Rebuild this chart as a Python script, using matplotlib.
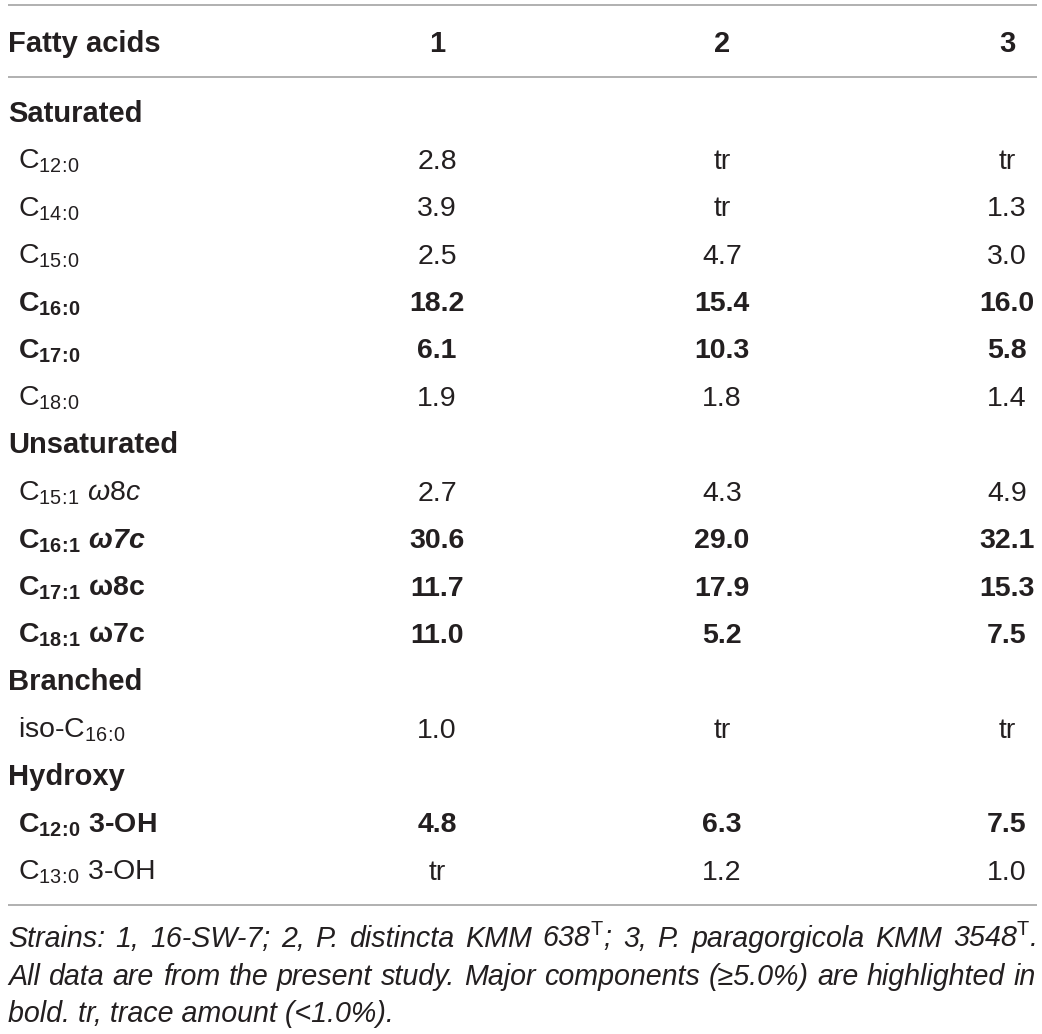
import matplotlib
matplotlib.use("Agg")
import matplotlib.pyplot as plt

plt.rcParams['font.family'] = ['Liberation Sans', 'DejaVu Sans']
plt.rcParams['mathtext.fontset'] = 'custom'
plt.rcParams['mathtext.rm'] = 'Liberation Sans'
plt.rcParams['mathtext.it'] = 'Liberation Sans:italic'
plt.rcParams['mathtext.bf'] = 'Liberation Sans:bold'
plt.rcParams['mathtext.bfit'] = 'Liberation Sans:bold:italic'
plt.rcParams['mathtext.sf'] = 'Liberation Sans'

# ---------------- data ----------------
header_labels = ["Fatty acids", "1", "2", "3"]

group_names = ["Saturated", "Unsaturated", "Branched", "Hydroxy"]

saturated_labels = [r"$\mathrm{C_{12\!:\!0}}$", r"$\mathrm{C_{14\!:\!0}}$", r"$\mathrm{C_{15\!:\!0}}$",
                    r"$\mathbf{C_{16\!:\!0}}$", r"$\mathbf{C_{17\!:\!0}}$", r"$\mathrm{C_{18\!:\!0}}$"]
unsaturated_labels = [r"$\mathrm{C_{15\!:\!1}}\ \mathit{ω8c}$",
                      r"$\mathbf{C_{16\!:\!1}}\ \mathbfit{ω7c}$",
                      r"$\mathbf{C_{17\!:\!1}}\ \mathbf{ω8c}$",
                      r"$\mathbf{C_{18\!:\!1}}\ \mathbf{ω7c}$"]
branched_labels = [r"iso-$\mathrm{C_{16\!:\!0}}$"]
hydroxy_labels = [r"$\mathbf{C_{12\!:\!0}}$ 3-OH",
                  r"$\mathrm{C_{13\!:\!0}}$ 3-OH"]

saturated_1 = ["2.8", "3.9", "2.5", "18.2", "6.1", "1.9"]
saturated_2 = ["tr", "tr", "4.7", "15.4", "10.3", "1.8"]
saturated_3 = ["tr", "1.3", "3.0", "16.0", "5.8", "1.4"]
saturated_major = [False, False, False, True, True, False]

unsaturated_1 = ["2.7", "30.6", "11.7", "11.0"]
unsaturated_2 = ["4.3", "29.0", "17.9", "5.2"]
unsaturated_3 = ["4.9", "32.1", "15.3", "7.5"]
unsaturated_major = [False, True, True, True]

branched_1 = ["1.0"]
branched_2 = ["tr"]
branched_3 = ["tr"]
branched_major = [False]

hydroxy_1 = ["4.8", "tr"]
hydroxy_2 = ["6.3", "1.2"]
hydroxy_3 = ["7.5", "1.0"]
hydroxy_major = [True, False]

caption_lines = [
    r"Strains: 1, 16-SW-7; 2, P. distincta KMM 638$^{\mathrm{T}}$; 3, P. paragorgicola KMM 3548$^{\mathrm{T}}$.",
    "All data are from the present study. Major components (≥5.0%) are highlighted in",
    "bold. tr, trace amount (<1.0%).",
]
caption_justify = [True, True, False]

groups = [
    (group_names[0], saturated_labels, saturated_1, saturated_2, saturated_3, saturated_major),
    (group_names[1], unsaturated_labels, unsaturated_1, unsaturated_2, unsaturated_3, unsaturated_major),
    (group_names[2], branched_labels, branched_1, branched_2, branched_3, branched_major),
    (group_names[3], hydroxy_labels, hydroxy_1, hydroxy_2, hydroxy_3, hydroxy_major),
]

# ---------------- layout ----------------
W, H = 1042, 1034
fig = plt.figure(figsize=(W / 100, H / 100), dpi=100)
ax = fig.add_axes([0, 0, 1, 1])
ax.set_xlim(0, W)
ax.set_ylim(H, 0)
ax.axis('off')

TXT = '#231f20'
LINE = '#a3a3a3'
FS = 20.5
FS_B = 21
FS_CAP = 20.6
x_group = 8
x_label = 18
x_right = 1036
col_x = [437, 722, 1007]
header_base = 52
first_base = 121.5
step = 47.4

ax.hlines([5, 77, 905], 8, 1037, color=LINE, lw=1.2)

ax.text(x_group, header_base, header_labels[0], fontsize=FS_B, fontweight='bold',
        color=TXT, ha='left', va='baseline')
for cx, lab in zip(col_x, header_labels[1:]):
    ax.text(cx, header_base, lab, fontsize=FS_B, fontweight='bold', color=TXT,
            ha='center', va='baseline')

i = 0
for name, labels, v1, v2, v3, major in groups:
    y = first_base + step * i
    ax.text(x_group, y, name, fontsize=FS_B, fontweight='bold', color=TXT,
            ha='left', va='baseline')
    i += 1
    for lab, a, b, c, m in zip(labels, v1, v2, v3, major):
        y = first_base + step * i
        w = 'bold' if m else 'normal'
        ax.text(x_label, y, lab, fontsize=FS, fontweight=w, color=TXT,
                ha='left', va='baseline')
        for cx, val in zip(col_x, (a, b, c)):
            ax.text(cx, y, val, fontsize=FS, fontweight=w, color=TXT,
                    ha='center', va='baseline')
        i += 1

# caption (justified lines, like the journal layout)
renderer = fig.canvas.get_renderer()
cap_base = [947, 985, 1022]
for yb, line, just in zip(cap_base, caption_lines, caption_justify):
    if not just:
        ax.text(x_group, yb, line, fontsize=FS_CAP, fontstyle='italic', color=TXT,
                ha='left', va='baseline')
        continue
    words = line.split(' ')
    objs = [ax.text(0, yb, wd, fontsize=FS_CAP, fontstyle='italic', color=TXT,
                    ha='left', va='baseline') for wd in words]
    widths = [o.get_window_extent(renderer).width for o in objs]
    gap = (x_right - x_group - sum(widths)) / (len(words) - 1)
    x = x_group
    for o, wd in zip(objs, widths):
        o.set_x(x)
        x += wd + gap

fig.savefig('out.png', dpi=100)
